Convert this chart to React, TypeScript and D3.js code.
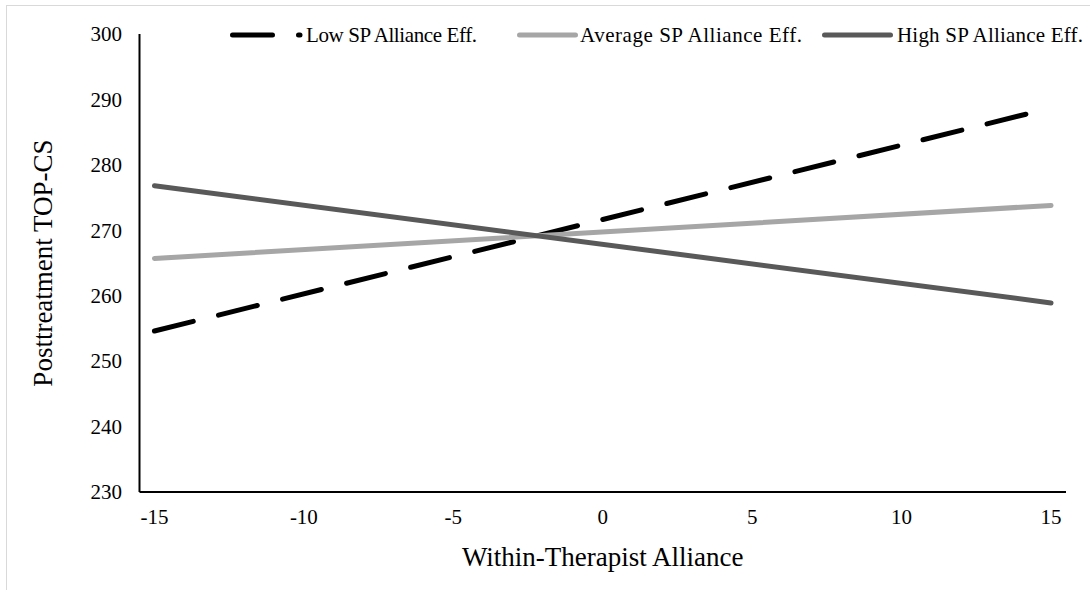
import React from "react";
import * as d3 from "d3";

const xEnds = [-15, 15];
const lowValues = [254.6, 288.7];
const avgValues = [265.7, 273.8];
const highValues = [276.8, 258.9];
const xTicks = [-15, -10, -5, 0, 5, 10, 15];
const yTicks = [230, 240, 250, 260, 270, 280, 290, 300];
const seriesNames = ["Low SP Alliance Eff.", "Average SP Alliance Eff.", "High SP Alliance Eff."];

const FONT = "'Liberation Serif', 'Times New Roman', serif";

export default function App() {
  const W = 1090, H = 590;
  const left = 139.5, right = 1066, top = 34, bottom = 492;
  const x = d3.scaleLinear().domain([-15.5, 15.5]).range([left, right]);
  const y = d3.scaleLinear().domain([230, 300]).range([bottom, top]);
  const line = d3.line<number>().x((_, i) => x(xEnds[i])).y((d) => y(d));

  const series = [
    { name: seriesNames[0], values: lowValues, color: "#000000", dash: "40 26" },
    { name: seriesNames[1], values: avgValues, color: "#a6a6a6", dash: null },
    { name: seriesNames[2], values: highValues, color: "#595959", dash: null },
  ];
  const legendPos = [
    { x1: 232.5, x2: 300, tx: 306, len: 171 },
    { x1: 519.5, x2: 575.5, tx: 580, len: 222 },
    { x1: 824.5, x2: 890.5, tx: 897, len: 186 },
  ];
  const legendY = 35;

  return (
    <svg width={W} height={H} style={{ position: "absolute", left: 0, top: 0, background: "#fff" }} fontFamily={FONT}>
      <rect x={6.5} y={5.5} width={W + 10} height={H + 10} fill="#fff" stroke="#d9d9d9" strokeWidth={1} />
      {/* axes */}
      <line x1={left} x2={left} y1={top} y2={bottom} stroke="#000" strokeWidth={2} />
      <line x1={left} x2={right} y1={bottom} y2={bottom} stroke="#000" strokeWidth={2} />
      {yTicks.map((t) => (
        <text key={t} x={122} y={y(t)} dy="0.35em" textAnchor="end" fontSize={21} fill="#000">
          {t}
        </text>
      ))}
      {xTicks.map((t) => (
        <text key={t} x={x(t)} y={517} dy="0.35em" textAnchor="middle" fontSize={21} fill="#000">
          {t}
        </text>
      ))}
      <text x={(left + right) / 2} y={557} dy="0.35em" textAnchor="middle" fontSize={27} fill="#000">
        Within-Therapist Alliance
      </text>
      <text
        transform={`translate(43, ${(top + bottom) / 2}) rotate(-90)`}
        dy="0.35em"
        textAnchor="middle"
        fontSize={27}
        fill="#000"
      >
        Posttreatment TOP-CS
      </text>
      {/* series */}
      {series.map((s) => (
        <path
          key={s.name}
          d={line(s.values) || ""}
          fill="none"
          stroke={s.color}
          strokeWidth={5}
          strokeLinecap="round"
          strokeDasharray={s.dash || undefined}
        />
      ))}
      {/* legend */}
      {series.map((s, i) => (
        <g key={"lg" + i}>
          <line
            x1={legendPos[i].x1}
            x2={legendPos[i].x2}
            y1={legendY}
            y2={legendY}
            stroke={s.color}
            strokeWidth={5}
            strokeLinecap="round"
            strokeDasharray={s.dash || undefined}
          />
          <text
            x={legendPos[i].tx}
            y={legendY}
            dy="0.35em"
            fontSize={21}
            fill="#000"
            textLength={legendPos[i].len}
            lengthAdjust="spacing"
          >
            {s.name}
          </text>
        </g>
      ))}
    </svg>
  );
}
